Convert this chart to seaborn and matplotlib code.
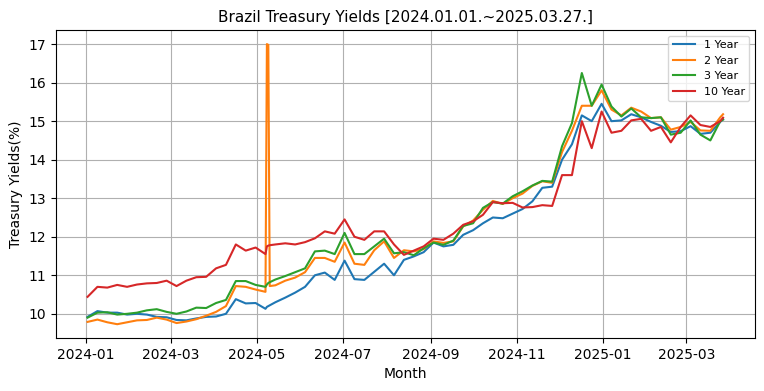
import pandas as pd
import seaborn as sns
import matplotlib.pyplot as plt

week_dates = pd.date_range("2024-01-02", periods=65, freq="7D")
extra_dates = pd.to_datetime(["2024-05-08", "2024-05-09", "2024-05-10", "2025-03-27"])

y1 = [9.92, 10.07, 10.03, 10.03, 9.98, 10.00, 9.98, 9.92, 9.91, 9.84,
      9.83, 9.88, 9.92, 9.93, 10.00, 10.38, 10.27, 10.28, 10.13, 10.30,
      10.42, 10.55, 10.70, 11.00, 11.07, 10.88, 11.38, 10.90, 10.88, 11.09,
      11.30, 11.00, 11.40, 11.49, 11.60, 11.85, 11.75, 11.79, 12.05, 12.17,
      12.35, 12.50, 12.48, 12.60, 12.72, 12.92, 13.27, 13.30, 14.00, 14.40,
      15.15, 15.00, 15.45, 15.00, 15.02, 15.18, 15.10, 14.98, 14.88, 14.72,
      14.74, 14.87, 14.67, 14.70, 14.98]
y1_extra = [10.18, 10.20, 10.22, 15.05]

y2 = [9.79, 9.85, 9.78, 9.73, 9.78, 9.83, 9.84, 9.90, 9.85, 9.76,
      9.80, 9.86, 9.95, 10.05, 10.20, 10.72, 10.70, 10.63, 10.57, 10.74,
      10.86, 10.94, 11.08, 11.45, 11.45, 11.35, 11.85, 11.30, 11.27, 11.65,
      11.88, 11.45, 11.65, 11.62, 11.68, 11.88, 11.84, 11.88, 12.27, 12.42,
      12.70, 12.93, 12.85, 13.00, 13.12, 13.32, 13.44, 13.40, 14.20, 14.75,
      15.40, 15.40, 15.80, 15.30, 15.15, 15.35, 15.25, 15.08, 15.10, 14.78,
      14.85, 14.98, 14.76, 14.75, 15.10]
y2_extra = [17.00, 16.98, 10.72, 15.18]

y3 = [9.90, 10.03, 10.04, 9.98, 10.00, 10.03, 10.09, 10.12, 10.05, 10.00,
      10.06, 10.16, 10.15, 10.28, 10.36, 10.85, 10.85, 10.75, 10.70, 10.89,
      10.98, 11.08, 11.18, 11.62, 11.64, 11.55, 12.10, 11.55, 11.55, 11.75,
      11.95, 11.57, 11.60, 11.52, 11.70, 11.85, 11.79, 11.90, 12.28, 12.35,
      12.75, 12.90, 12.86, 13.05, 13.18, 13.33, 13.45, 13.43, 14.35, 14.95,
      16.25, 15.40, 15.95, 15.38, 15.12, 15.33, 15.10, 15.08, 15.10, 14.65,
      14.70, 15.02, 14.65, 14.50, 15.00]
y3_extra = [10.76, 10.80, 10.82, 15.04]

y10 = [10.44, 10.70, 10.68, 10.75, 10.70, 10.76, 10.79, 10.80, 10.86, 10.72,
       10.86, 10.95, 10.96, 11.18, 11.27, 11.80, 11.64, 11.72, 11.55, 11.80,
       11.83, 11.80, 11.86, 11.96, 12.14, 12.08, 12.45, 12.00, 11.92, 12.14,
       12.14, 11.80, 11.53, 11.64, 11.75, 11.95, 11.92, 12.08, 12.31, 12.40,
       12.57, 12.90, 12.87, 12.88, 12.76, 12.77, 12.82, 12.80, 13.60, 13.60,
       15.00, 14.30, 15.25, 14.70, 14.75, 15.02, 15.06, 14.75, 14.85, 14.45,
       14.85, 15.15, 14.90, 14.85, 15.00]
y10_extra = [11.75, 11.77, 11.78, 15.09]

labels = ["1 Year", "2 Year", "3 Year", "10 Year"]

df = pd.DataFrame({
    "Date": list(week_dates) + list(extra_dates),
    "1 Year": y1 + y1_extra,
    "2 Year": y2 + y2_extra,
    "3 Year": y3 + y3_extra,
    "10 Year": y10 + y10_extra,
}).sort_values("Date")
long_df = df.melt(id_vars="Date", var_name="Maturity", value_name="Yield")

fig, ax = plt.subplots(figsize=(7.64, 3.91), dpi=100)
sns.lineplot(data=long_df, x="Date", y="Yield", hue="Maturity",
             hue_order=labels, palette="tab10", linewidth=1.5, ax=ax)

ax.set_title("Brazil Treasury Yields [2024.01.01.~2025.03.27.]", fontsize=11)
ax.set_xlabel("Month")
ax.set_ylabel("Treasury Yields(%)")
ax.grid(True)
ax.legend(fontsize=8, loc="upper right")

fig.subplots_adjust(left=0.073, right=0.988, top=0.923, bottom=0.135)
fig.savefig("out.png", dpi=100)
